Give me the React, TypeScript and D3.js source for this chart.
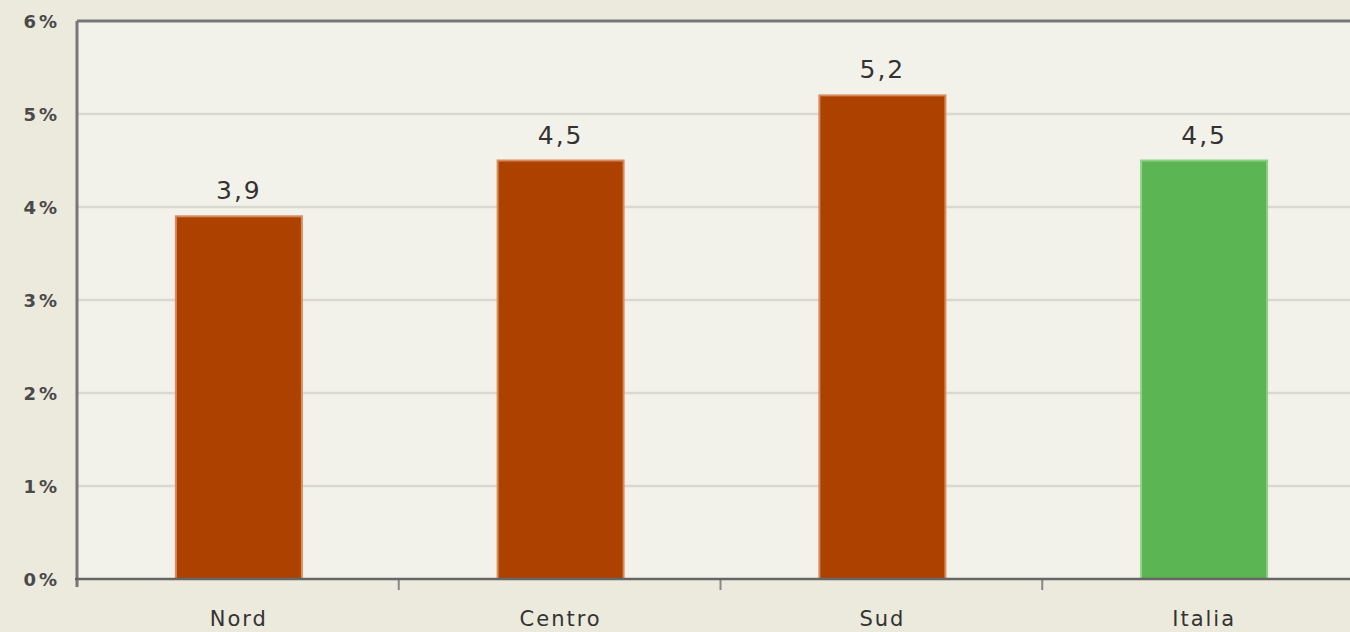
import React from "react";
import * as d3 from "d3";

const categories = ["Nord", "Centro", "Sud", "Italia"];
const values = [3.9, 4.5, 5.2, 4.5];
const barColors = ["#AD4200", "#AD4200", "#AD4200", "#5AB552"];
const yTicks = [0, 1, 2, 3, 4, 5, 6];

export default function App() {
  const W = 1350, H = 632;
  const left = 77, right = 1364, top = 21, bottom = 579;
  const xb = d3.scaleBand<string>().domain(categories).range([left, right]);
  const y = d3.scaleLinear().domain([0, 6]).range([bottom, top]);
  const font = "'DejaVu Sans', Verdana, sans-serif";
  return (
    <svg width={W} height={H} style={{ position: "absolute", left: 0, top: 0, display: "block" }}>
      <rect x={0} y={0} width={W} height={H} fill="#ECE9DD" />
      <rect x={left} y={top} width={right - left} height={bottom - top} fill="#F3F2EA" />
      {yTicks.filter(t => t > 0 && t < 6).map(t => (
        <line key={t} x1={left} x2={right} y1={y(t)} y2={y(t)} stroke="#D9D8D0" strokeWidth={2.5} />
      ))}
      {yTicks.map(t => (
        <text key={"l" + t} x={60} y={y(t) + 7} textAnchor="end" fontFamily={font} fontSize={18} fill="#4a4a4a" letterSpacing={3} fontWeight={600}>
          {t}%
        </text>
      ))}
      {categories.map((c, i) => {
        const bw = 126;
        const cx = (xb(c) as number) + xb.bandwidth() / 2;
        const bx = cx - bw / 2;
        return (
          <g key={c}>
            <rect x={bx + 1} y={y(values[i])} width={bw} height={bottom - y(values[i])} fill={barColors[i]}
              stroke={i === 3 ? "#8FD088" : "#D88A5E"} strokeWidth={2} />
            <text x={cx + 1} y={y(values[i]) - 17} textAnchor="middle" fontFamily={font} fontSize={25} fill="#333" letterSpacing={2}>
              {values[i].toFixed(1).replace(".", ",")}
            </text>
            <text x={cx + 1} y={626} textAnchor="middle" fontFamily={font} fontSize={21} fill="#333" letterSpacing={2}>
              {c}
            </text>
          </g>
        );
      })}
      {categories.slice(1).map(c => (
        <line key={"t" + c} x1={xb(c) as number} x2={xb(c) as number} y1={bottom} y2={590} stroke="#888" strokeWidth={2} />
      ))}
      <line x1={left} x2={right} y1={top} y2={top} stroke="#777" strokeWidth={3} />
      <line x1={left} x2={left} y1={top} y2={bottom + 8} stroke="#777" strokeWidth={3} />
      <line x1={left - 2} x2={right} y1={bottom} y2={bottom} stroke="#666" strokeWidth={2.5} />
    </svg>
  );
}
